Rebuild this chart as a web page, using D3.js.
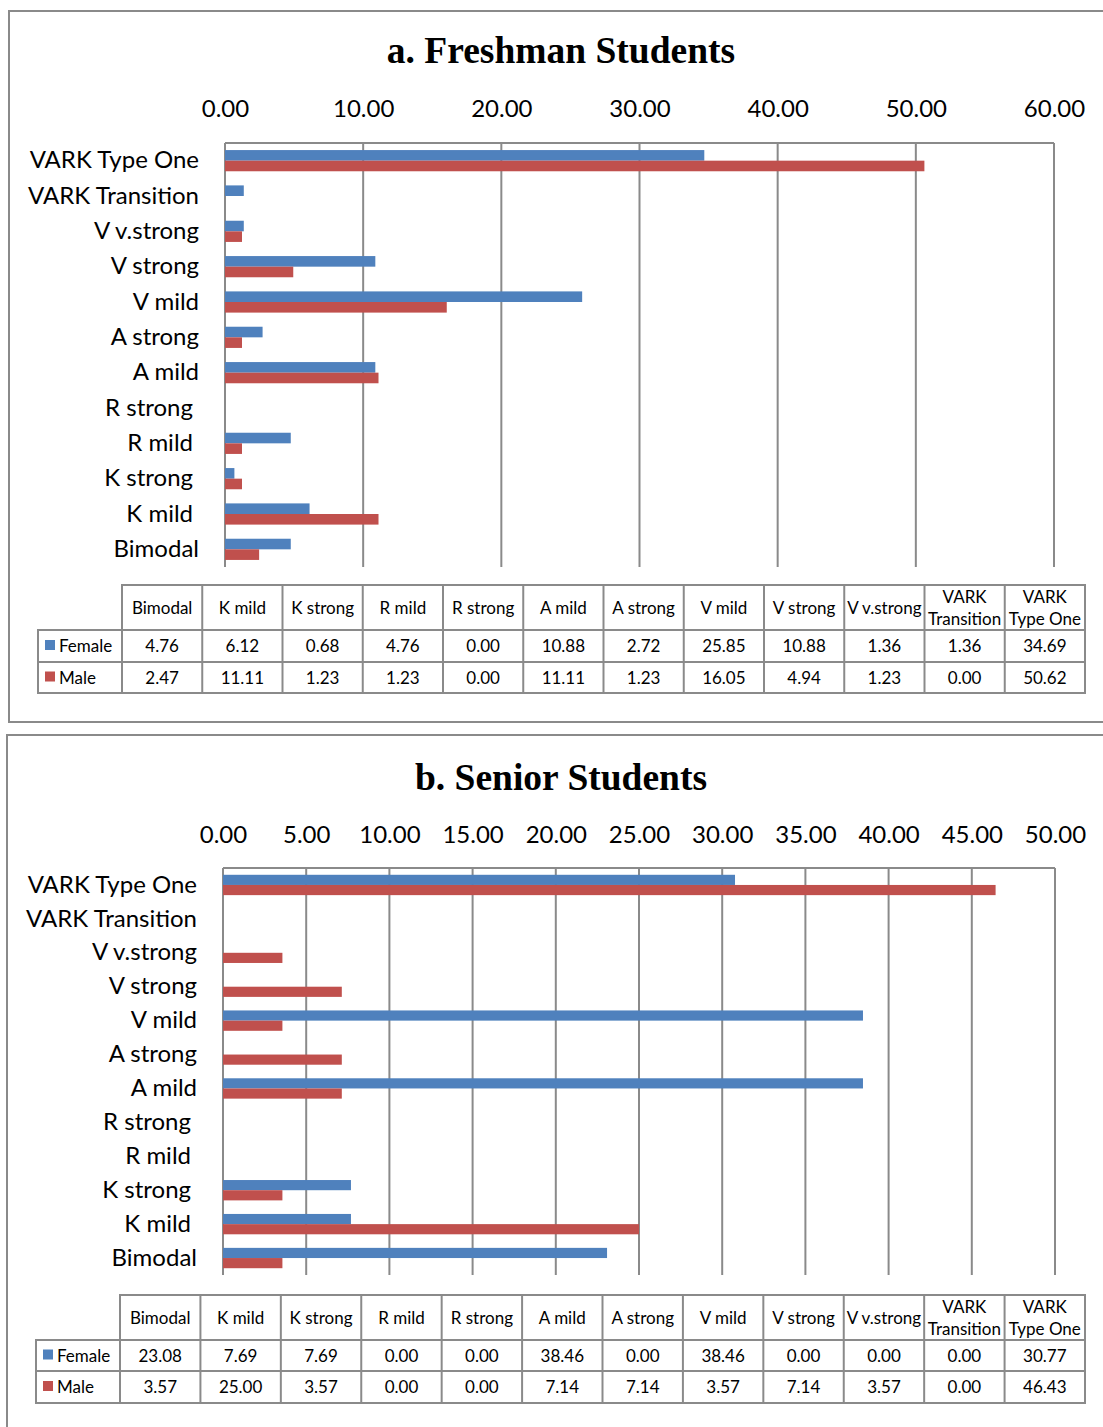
<!DOCTYPE html>
<html>
<head>
<meta charset="utf-8">
<script src="https://cdn.jsdelivr.net/npm/d3@7"></script>
<style>
  html, body { margin: 0; padding: 0; background: #fff; }
  svg { display: block; }
</style>
</head>
<body>
<svg id="chart" width="1103" height="1427"></svg>
<script>
// Learning-style categories, in table order (bottom bar first)
const categories = ["Bimodal", "K mild", "K strong", "R mild", "R strong", "A mild", "A strong",
  "V mild", "V strong", "V v.strong", "VARK Transition", "VARK Type One"];
const seriesNames = ["Female", "Male"];

// Percentages per category
const freshmanFemale = [4.76, 6.12, 0.68, 4.76, 0.00, 10.88, 2.72, 25.85, 10.88, 1.36, 1.36, 34.69];
const freshmanMale   = [2.47, 11.11, 1.23, 1.23, 0.00, 11.11, 1.23, 16.05, 4.94, 1.23, 0.00, 50.62];
const seniorFemale   = [23.08, 7.69, 7.69, 0.00, 0.00, 38.46, 0.00, 38.46, 0.00, 0.00, 0.00, 30.77];
const seniorMale     = [3.57, 25.00, 3.57, 0.00, 0.00, 7.14, 7.14, 3.57, 7.14, 3.57, 0.00, 46.43];

// Axis tick values
const freshmanTicks = [0, 10, 20, 30, 40, 50, 60];
const seniorTicks   = [0, 5, 10, 15, 20, 25, 30, 35, 40, 45, 50];

// R and K labels sit slightly further left of the axis
const shiftedLabels = new Set(["R strong", "R mild", "K strong", "K mild"]);

const colors = ["#4F81BD", "#C0504D"];
const gridColor = "#8a8a8a";
const sansFont = "Lato, 'Open Sans', sans-serif";
const fmt = d3.format(".2f");

const svg = d3.select("#chart");

function drawPanel(p) {
  const g = svg.append("g");

  // panel frame (runs off the right edge)
  g.append("path")
    .attr("d", p.frameBottom == null
      ? `M${p.frameRight},${p.frameTop} H${p.frameLeft} V1440`
      : `M${p.frameRight},${p.frameTop} H${p.frameLeft} V${p.frameBottom} H${p.frameRight}`)
    .attr("fill", "none").attr("stroke", gridColor).attr("stroke-width", 2);

  g.append("text")
    .attr("x", 561).attr("y", p.titleY)
    .attr("text-anchor", "middle")
    .attr("font-family", "'Liberation Serif', 'Times New Roman', serif")
    .attr("font-weight", "bold").attr("font-size", 37.5)
    .text(p.title);

  const x = d3.scaleLinear().domain([0, p.ticks[p.ticks.length - 1]]).range([p.x0, p.x1]);
  const y = d3.scaleBand().domain(categories.slice().reverse()).range([p.top, p.bottom]);

  // vertical gridlines
  g.append("g").selectAll("line").data(p.ticks).join("line")
    .attr("x1", d => x(d)).attr("x2", d => x(d))
    .attr("y1", p.top).attr("y2", p.bottom)
    .attr("stroke", gridColor).attr("stroke-width", 2);
  g.append("line")
    .attr("x1", p.x0).attr("x2", p.x1).attr("y1", p.top).attr("y2", p.top)
    .attr("stroke", gridColor).attr("stroke-width", 2);

  // top axis labels
  const axis = d3.axisTop(x).tickValues(p.ticks).tickFormat(fmt).tickSize(0).tickPadding(0);
  const ax = g.append("g").attr("transform", `translate(0,${p.tickY})`).call(axis);
  ax.select(".domain").remove();
  ax.selectAll("text").attr("font-family", sansFont).attr("font-size", 24).attr("fill", "#000")
    .attr("dy", 0);

  // category labels
  const ay = d3.axisLeft(y).tickSize(0).tickPadding(0);
  const yl = g.append("g").attr("transform", `translate(${p.labelX},0)`).call(ay);
  yl.select(".domain").remove();
  yl.selectAll("text").attr("font-family", sansFont).attr("font-size", 24).attr("fill", "#000")
    .attr("x", d => shiftedLabels.has(d) ? -6 : 0);

  // bars
  const barH = y.bandwidth() * 0.3;
  const series = [p.female, p.male];
  series.forEach((vals, si) => {
    g.append("g").selectAll("rect").data(categories.map((c, i) => ({ c, v: vals[i] })))
      .join("rect")
      .attr("x", x(0))
      .attr("y", d => y(d.c) + y.bandwidth() / 2 - barH + si * barH)
      .attr("width", d => x(d.v) - x(0))
      .attr("height", barH)
      .attr("fill", colors[si]);
  });

  // data table
  const t = p.table;
  const colW = (t.right - t.left) / categories.length;
  const lines = g.append("g").attr("stroke", gridColor).attr("stroke-width", 2).attr("fill", "none");
  lines.append("path").attr("d",
    `M${t.left},${t.rows[1]} V${t.rows[0]} H${t.right} V${t.rows[3]} H${t.legendLeft} V${t.rows[1]} H${t.right} M${t.legendLeft},${t.rows[2]} H${t.right}`);
  categories.forEach((c, i) => {
    const cx = t.left + colW * i;
    lines.append("line").attr("x1", cx).attr("x2", cx).attr("y1", t.rows[0]).attr("y2", t.rows[3]);
  });

  const tt = g.append("g").attr("font-family", sansFont).attr("font-size", 17).attr("fill", "#000")
    .attr("text-anchor", "middle");
  categories.forEach((c, i) => {
    const cx = t.left + colW * (i + 0.5);
    const midH = (t.rows[0] + t.rows[1]) / 2;
    if (c.startsWith("VARK ")) {
      tt.append("text").attr("x", cx).attr("y", midH - 5).text("VARK");
      tt.append("text").attr("x", cx).attr("y", midH + 17).text(c.slice(5));
    } else {
      tt.append("text").attr("x", cx).attr("y", midH + 6).text(c);
    }
    series.forEach((vals, si) => {
      const my = (t.rows[si + 1] + t.rows[si + 2]) / 2;
      tt.append("text").attr("x", cx).attr("y", my + 6).text(fmt(vals[i]));
    });
  });
  seriesNames.forEach((s, si) => {
    const my = (t.rows[si + 1] + t.rows[si + 2]) / 2;
    g.append("rect").attr("x", t.legendLeft + 7).attr("y", my - 6).attr("width", 10).attr("height", 10)
      .attr("fill", colors[si]);
    g.append("text").attr("x", t.legendLeft + 21).attr("y", my + 6)
      .attr("font-family", sansFont).attr("font-size", 17).text(s);
  });
}

drawPanel({
  title: "a. Freshman Students", titleY: 63,
  frameLeft: 9, frameTop: 11, frameBottom: 722, frameRight: 1110,
  ticks: freshmanTicks, x0: 225, x1: 1054, tickY: 117,
  top: 143, bottom: 567, labelX: 199,
  female: freshmanFemale, male: freshmanMale,
  table: { legendLeft: 38, left: 122, right: 1085, rows: [585, 630, 662, 693] }
});

drawPanel({
  title: "b. Senior Students", titleY: 790,
  frameLeft: 7, frameTop: 735, frameBottom: null, frameRight: 1110,
  ticks: seniorTicks, x0: 223, x1: 1055, tickY: 843,
  top: 868, bottom: 1275, labelX: 197,
  female: seniorFemale, male: seniorMale,
  table: { legendLeft: 36, left: 120, right: 1085, rows: [1295, 1340, 1371, 1403] }
});
</script>
</body>
</html>
